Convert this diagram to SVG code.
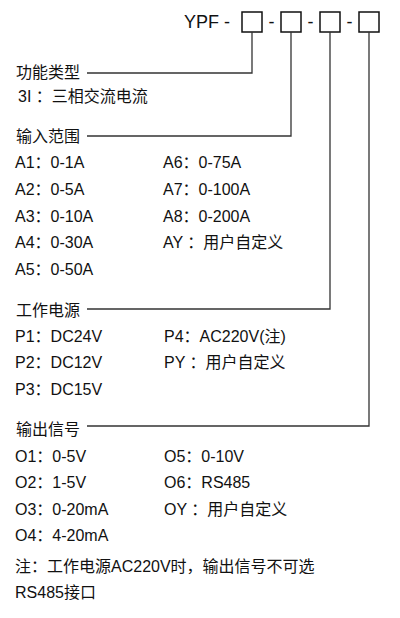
<svg xmlns="http://www.w3.org/2000/svg" width="400" height="618" viewBox="0 0 400 618">
<style>
text{font-family:"Liberation Sans","Noto Sans CJK SC",sans-serif;font-size:16px;fill:#111}
.code{font-size:18px}
.box{fill:#fff;stroke:#111;stroke-width:1.5}
.conn{fill:none;stroke:#333;stroke-width:1.3}
</style>
<rect width="400" height="618" fill="#fff"/>
<g id="header">
<text class="code" x="184" y="28">YPF -</text>
<text class="code" x="271.5" y="28" text-anchor="middle">-</text>
<text class="code" x="310.5" y="28" text-anchor="middle">-</text>
<text class="code" x="349.5" y="28" text-anchor="middle">-</text>
</g>
<g id="box1"><rect class="box" x="242" y="12" width="20" height="20"/></g>
<g id="box2"><rect class="box" x="281" y="12" width="20" height="20"/></g>
<g id="box3"><rect class="box" x="320" y="12" width="20" height="20"/></g>
<g id="box4"><rect class="box" x="359" y="12" width="20" height="20"/></g>
<g id="connectors">
<path class="conn" d="M252,32 V73 H87"/>
<path class="conn" d="M291,32 V136 H87"/>
<path class="conn" d="M330,32 V309 H87"/>
<path class="conn" d="M369,32 V426 H87"/>
</g>
<g id="function">
<text x="16" y="78">功能类型</text>
<text x="18" y="102">3I ：三相交流电流</text>
</g>
<g id="input">
<text x="16" y="142">输入范围</text>
<text x="15" y="168">A1：0-1A</text>
<text x="15" y="195">A2：0-5A</text>
<text x="15" y="221.5">A3：0-10A</text>
<text x="15" y="248">A4：0-30A</text>
<text x="15" y="275">A5：0-50A</text>
<text x="163" y="168">A6：0-75A</text>
<text x="163" y="195">A7：0-100A</text>
<text x="163" y="221.5">A8：0-200A</text>
<text x="163" y="248">AY ：用户自定义</text>
</g>
<g id="power">
<text x="16" y="316">工作电源</text>
<text x="15" y="341.5">P1：DC24V</text>
<text x="15" y="368">P2：DC12V</text>
<text x="15" y="394.5">P3：DC15V</text>
<text x="164" y="341.5">P4：AC220V(注)</text>
<text x="164" y="368">PY ：用户自定义</text>
</g>
<g id="output">
<text x="16" y="435">输出信号</text>
<text x="15" y="461.5">O1：0-5V</text>
<text x="15" y="488">O2：1-5V</text>
<text x="15" y="514.5">O3：0-20mA</text>
<text x="15" y="541">O4：4-20mA</text>
<text x="164" y="461.5">O5：0-10V</text>
<text x="164" y="488">O6：RS485</text>
<text x="164" y="514.5">OY ：用户自定义</text>
</g>
<g id="note">
<text x="15" y="572">注：工作电源AC220V时，输出信号不可选</text>
<text x="15" y="598">RS485接口</text>
</g>
</svg>
